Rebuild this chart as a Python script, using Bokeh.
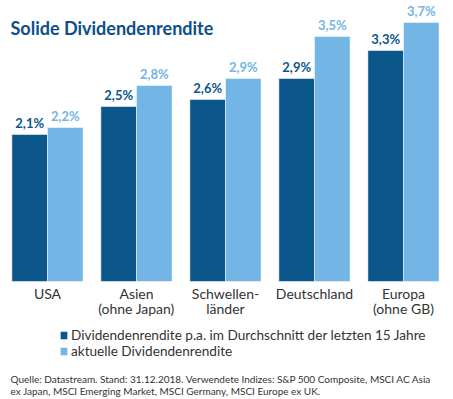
from bokeh.plotting import figure
from bokeh.models import Range1d, Label, Legend, LegendItem, ColumnDataSource
from bokeh.core.properties import value
from bokeh.embed import file_html
from bokeh.resources import INLINE

categories = ["USA", "Asien\n(ohne Japan)", "Schwellen-\nländer", "Deutschland", "Europa\n(ohne GB)"]
avg15 = [2.1, 2.5, 2.6, 2.9, 3.3]
current = [2.2, 2.8, 2.9, 3.5, 3.7]
series_names = ["Dividendenrendite p.a. im Durchschnitt der letzten 15 Jahre", "aktuelle Dividendenrendite"]
title_text = "Solide Dividendenrendite"
footer_lines = ["Quelle: Datastream. Stand: 31.12.2018. Verwendete Indizes: S&P 500 Composite, MSCI AC Asia",
                "ex Japan, MSCI Emerging Market, MSCI Germany, MSCI Europe ex UK."]

DARK = "#0b568b"
LIGHT = "#73b5e4"
TEXT = "#333333"
FONT = "Lato"

idx = list(range(len(categories)))
fmt = lambda v: f"{v:.1f}".replace(".", ",") + "%"

src_a = ColumnDataSource(dict(x=[i - 0.2 for i in idx], y=avg15, lab=[fmt(v) for v in avg15]))
src_b = ColumnDataSource(dict(x=[i + 0.2 for i in idx], y=current, lab=[fmt(v) for v in current]))
src_c = ColumnDataSource(dict(x=idx, y=[0] * len(idx), lab=categories))

p = figure(width=453, height=399, output_backend="svg", toolbar_location=None,
           x_range=Range1d(-0.528, 4.562), y_range=Range1d(-1.686, 4.014),
           min_border_left=0, min_border_right=0, min_border_top=0, min_border_bottom=0)
p.outline_line_color = None
p.xgrid.visible = False
p.ygrid.visible = False
p.axis.visible = False
p.background_fill_color = "white"
p.border_fill_color = "white"

ra = p.vbar(x="x", top="y", width=0.4, source=src_a, color=DARK, line_color="white", line_width=0.5)
rb = p.vbar(x="x", top="y", width=0.4, source=src_b, color=LIGHT, line_color="white", line_width=0.5)

p.text(x="x", y="y", text="lab", source=src_a, text_align="center", text_baseline="bottom",
       y_offset=-3, text_font=value(FONT), text_font_style="bold", text_font_size="13px", text_color=DARK)
p.text(x="x", y="y", text="lab", source=src_b, text_align="center", text_baseline="bottom",
       y_offset=-3, text_font=value(FONT), text_font_style="bold", text_font_size="13px", text_color=LIGHT)

p.text(x="x", y="y", text="lab", source=src_c, text_align="center", text_baseline="top",
       y_offset=4, text_font=value(FONT), text_font_size="14px", text_color=TEXT, text_line_height=0.87)

legend = Legend(items=[LegendItem(label=series_names[0], renderers=[ra]),
                       LegendItem(label=series_names[1], renderers=[rb])],
                location=(59, 40), orientation="vertical",
                glyph_width=9, glyph_height=10, label_text_font=FONT, label_text_font_size="13.6px",
                label_text_color=TEXT, spacing=0, padding=0, margin=0, label_standoff=3,
                label_height=14, border_line_color=None, background_fill_alpha=0)
p.add_layout(legend, "center")

p.add_layout(Label(x=10, y=372, x_units="screen", y_units="screen", text=title_text,
                   text_font=FONT, text_font_style="bold", text_font_size="18px", text_color="#0d4f8a",
                   text_baseline="alphabetic"))
for k, line in enumerate(footer_lines):
    p.add_layout(Label(x=10, y=21 - 12.5 * k, x_units="screen", y_units="screen", text=line,
                       text_font=FONT, text_font_size="10px", text_color=TEXT,
                       text_baseline="alphabetic"))

open("out.html", "w").write(file_html(p, INLINE))
